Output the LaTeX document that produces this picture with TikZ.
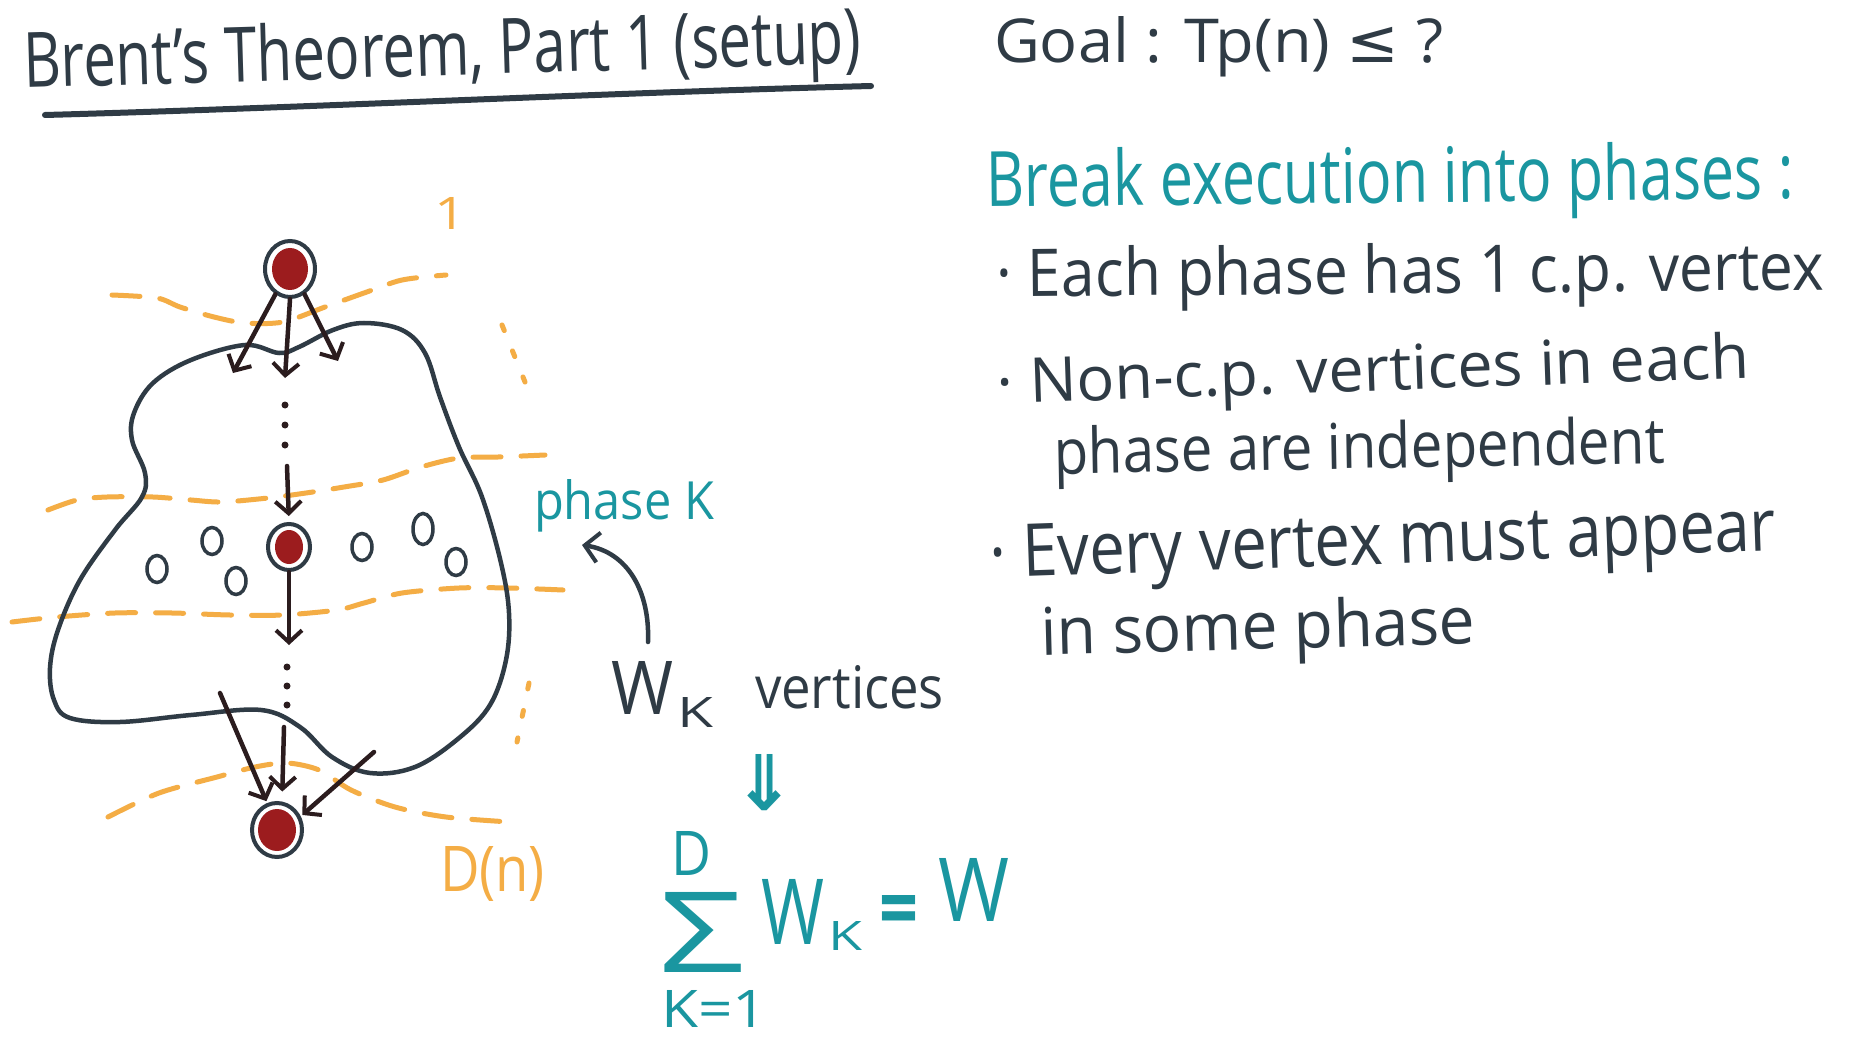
\documentclass[tikz,border=0pt]{standalone}
\usepackage{fontspec}
\setmainfont{Open Sans}
\newfontfamily\symf{DejaVu Sans}
\usepackage{graphicx}
\usetikzlibrary{arrows.meta,shapes.geometric}
\definecolor{ink}{HTML}{2F3B45}
\definecolor{tealc}{HTML}{1A96A0}
\definecolor{orng}{HTML}{F4AD45}
\definecolor{vred}{HTML}{9C1C1E}
\definecolor{arrc}{HTML}{2B1C1E}
\newcommand\fitx[3]{\resizebox{#1pt}{#2pt}{#3}}
\begin{document}
\begin{tikzpicture}[x=1pt,y=-1pt,
  txt/.style={inner sep=0pt,outer sep=0pt,anchor=base west},
  vtx/.style={ellipse,draw=ink,line width=4pt,fill=white,inner sep=0pt},
  ring/.style={ellipse,draw=ink,line width=3.5pt,inner sep=0pt,minimum width=20pt,minimum height=27pt},
  arr/.style={draw=arrc,line width=4.5pt,line cap=round,-{Straight Barb[length=12pt,width=26pt,line width=4pt]}},
  inkarr/.style={draw=ink,line width=4.5pt,line cap=round,-{Straight Barb[length=14pt,width=30pt,line width=4pt]}},
  phasel/.style={draw=orng,line width=5pt,line cap=round,dash pattern=on 28pt off 20pt},
  dotl/.style={draw=orng,line width=5pt,line cap=round,dash pattern=on 6pt off 22pt},
  blob/.style={draw=ink,line width=4.5pt}
]
\useasboundingbox[fill=white] (0,0) rectangle (1851,1048);

% title
\node[txt,ink,rotate=1.7] (title) at (24,88) {\fitx{838}{58}{Brent's Theorem, Part 1 (setup)}};
\draw[ink,line width=6pt,line cap=round] (45,115) .. controls (300,108) and (600,93) .. (871,86);

% right column
\node[txt,ink] (goal) at (994,63) {\fitx{449}{46}{Goal : Tp(n) {\symf ≤} ?}};
\node[txt,tealc,rotate=0.6] (break) at (986,207) {\fitx{808}{58}{Break execution into phases :}};
\node[txt,ink,rotate=0.5] (b1) at (996,297) {\fitx{828}{50}{·\ Each phase has 1 c.p. vertex}};
\node[txt,ink,rotate=2] (b2) at (997,404) {\fitx{753}{47}{·\ Non-c.p. vertices in each}};
\node[txt,ink,rotate=1] (b2b) at (1054,474) {\fitx{611}{48}{phase are independent}};
\node[txt,ink,rotate=2] (b3) at (990,578) {\fitx{787}{52}{·\ Every vertex must appear}};
\node[txt,ink,rotate=1.5] (b3b) at (1041,655) {\fitx{435}{50}{in some phase}};

% orange phase boundaries
\draw[phasel] plot[smooth] coordinates {(112,295) (157,298) (180,307) (214,317) (245,323) (283,322) (325,307) (364,293) (402,280) (446,275)};
\draw[phasel] plot[smooth] coordinates {(48,510) (77,500) (107,497) (153,497) (191,500) (222,502) (268,498) (306,493) (344,487) (383,480) (421,467) (459,458) (498,457) (545,455)};
\draw[phasel] plot[smooth] coordinates {(12,622) (57,617) (115,613) (172,613) (230,615) (283,615) (337,610) (364,603) (402,593) (459,588) (509,588) (563,590)};
\draw[phasel] plot[smooth] coordinates {(108,817) (159,793) (217,777) (255,767) (287,763) (319,770) (351,790) (395,807) (446,817) (510,822)};
\draw[dotl] (502,325) -- (525,382);
\draw[dotl] (529,683) -- (517,742);

% blob
\draw[blob] plot[smooth cycle,tension=0.6] coordinates {(279,353) (299,347) (333,330) (364,323) (402,330) (425,353) (440,397) (459,447) (482,497) (501,563) (509,613) (506,660) (490,705) (459,738) (415,767) (370,773) (332,757) (300,727) (261,710) (191,715) (120,722) (70,718) (54,700) (50,668) (58,630) (80,580) (115,530) (142,497) (145,473) (132,440) (134,413) (153,383) (191,360) (245,345)};

% vertices
\node[vtx,minimum width=50pt,minimum height=56pt] (v1) at (290,269) {};
\fill[vred] (v1.center) ellipse (18 and 21);
\node[vtx,minimum width=42pt,minimum height=46pt] (v2) at (289,547) {};
\fill[vred] (v2.center) ellipse (14 and 17);
\node[vtx,minimum width=50pt,minimum height=54pt] (v3) at (277,830) {};
\fill[vred] (v3.center) ellipse (19 and 21);

% other vertices of phase k
\node[ring] (o1) at (157,569) {};
\node[ring] (o2) at (212,541) {};
\node[ring] (o3) at (236,581) {};
\node[ring] (o4) at (362,547) {};
\node[ring,minimum height=31pt] (o5) at (423,529) {};
\node[ring] (o6) at (456,562) {};

% arrows from the top vertex
\coordinate (a1) at (233,373);
\coordinate (a2) at (285,378);
\coordinate (a3) at (338,361);
\draw[arr] (v1.-120) -- (a1);
\draw[arr] (v1.-90) -- (a2);
\draw[arr] (v1.-60) -- (a3);
\fill[arrc] (285,405) circle (3.5) (285,425) circle (3.5) (285,445) circle (3.5);
\coordinate (m1) at (287,466);
\draw[arr,shorten >=6pt] (m1) -- (v2.north);
\coordinate (m2) at (289,645);
\draw[arr] (v2.south) -- (m2);
\fill[arrc] (287,667) circle (3.5) (287,686) circle (3.5) (287,705) circle (3.5);
\coordinate (n1) at (220,693);
\coordinate (n2) at (284,727);
\coordinate (n3) at (374,752);
\draw[arr,shorten >=2pt] (n1) -- (v3.110);
\draw[arr,shorten >=10pt] (n2) -- (v3.80);
\draw[arr,shorten >=2pt] (n3) -- (v3.30);

% orange labels
\node[txt,orng] (one) at (434,230) {\fitx{32}{32}{1}};
\node[txt,orng] (dn) at (440,891) {\fitx{105}{45}{D(n)}};

% phase k label and W_k
\node[txt,tealc] (phk) at (534,519) {\fitx{180}{40}{phase K}};
\node[txt,ink] (wk) at (611,714) {\fitx{62}{53}{W}};
\node[txt,ink] (wksub) at (677,727) {\fitx{36}{30}{K}};
\node[txt,ink] (vert) at (755,708) {\fitx{189}{43}{vertices}};
\coordinate (c1) at (648,642);
\coordinate (c2) at (582,545);
\draw[inkarr] (c1) .. controls (650,592) and (628,552) .. (c2);

% implication and sum
\node[tealc,inner sep=0pt] (impl) at (764,783) {\fitx{62}{56}{\symf\bfseries ⇓}};
\node[txt,tealc] (sumD) at (671,875) {\fitx{40}{44}{D}};
\node[txt,tealc] (sig) at (659,972) {\fitx{85}{80}{Σ}};
\node[txt,tealc] (klow) at (661,1027) {\fitx{106}{37}{K=1}};
\node[txt,tealc] (w1) at (761,944) {\fitx{63}{65}{W}};
\node[txt,tealc] (w1s) at (828,950) {\fitx{34}{29}{K}};
\node[txt,tealc] (eq) at (879,938) {\fitx{39}{43}{\bfseries =}};
\node[txt,tealc] (w2) at (938,921) {\fitx{71}{63}{W}};
\end{tikzpicture}
\end{document}
